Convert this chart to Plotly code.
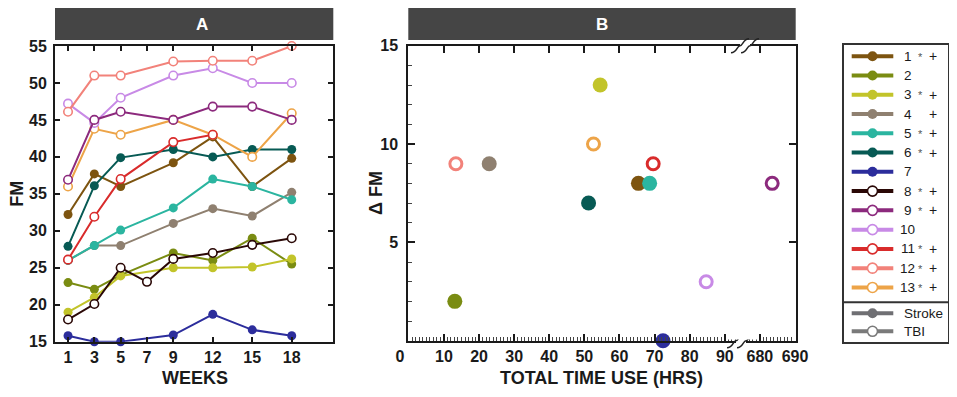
import plotly.graph_objects as go

PAGE_W, PAGE_H = 957, 397
BODY_MARGIN = 8  # default page margin around the plot div
W, H = PAGE_W - 2 * BODY_MARGIN, PAGE_H - 2 * BODY_MARGIN
FONT = "Liberation Sans, Arial, Helvetica, sans-serif"

# ---------------- data ----------------
weeks = [1, 3, 5, 9, 12, 15, 18]
weeks_p8 = [1, 3, 5, 7, 9, 12, 15, 18]
weeks_p11 = [1, 3, 5, 9, 12]

fm_p1 = [32.2, 37.7, 36.0, 39.2, 42.7, 36.0, 39.8]
fm_p2 = [23.0, 22.1, 24.0, 27.0, 26.0, 29.0, 25.5]
fm_p3 = [19.0, 21.0, 23.9, 25.0, 25.0, 25.1, 26.2]
fm_p4 = [26.0, 28.0, 28.0, 31.0, 33.0, 32.0, 35.2]
fm_p5 = [26.0, 28.0, 30.1, 33.1, 37.0, 36.0, 34.2]
fm_p6 = [27.9, 36.1, 39.9, 41.0, 40.0, 41.0, 41.0]
fm_p7 = [15.8, 15.0, 15.0, 15.9, 18.7, 16.6, 15.8]
fm_p8 = [18.0, 20.1, 25.0, 23.1, 26.2, 27.0, 28.1, 29.0]
fm_p9 = [36.9, 45.0, 46.1, 45.0, 46.8, 46.8, 45.0]
fm_p10 = [47.2, 44.6, 48.0, 51.0, 52.0, 50.0, 50.0]
fm_p11 = [26.1, 31.9, 37.0, 42.0, 43.0]
fm_p12 = [46.1, 51.0, 51.0, 52.9, 53.0, 53.0, 55.0]
fm_p13 = [36.0, 43.8, 43.0, 45.0, 43.0, 40.0, 45.9]

patients = ["1", "2", "3", "4", "5", "6", "7", "8", "9", "10", "11", "12", "13"]
group = ["Stroke"] * 7 + ["TBI"] * 6
sig_star = ["*", "", "*", "", "*", "*", "", "*", "*", "", "*", "*", "*"]
sig_plus = ["+", "", "+", "+", "+", "+", "", "+", "+", "", "+", "+", "+"]

total_hours = [65.4, 13.1, 54.5, 22.9, 68.6, 51.2, 72.4, None, 683.5, 84.7, 69.6, 13.4, 52.6]
delta_fm = [8, 2, 13, 9, 8, 7, 0, None, 8, 3, 9, 9, 10]

colors = ["#7d5410", "#7a8c12", "#c2c42a", "#8f8070", "#2bb5a0", "#075a54", "#2c2d9c",
          "#2a0806", "#8c2a7d", "#c88ae6", "#d92b2b", "#f2827a", "#eda448"]
group_colors = {"Stroke": "#6f6f73", "TBI": "#7a7a7a"}

x_ticks_a = [1, 3, 5, 7, 9, 12, 15, 18]
y_ticks_a = [15, 20, 25, 30, 35, 40, 45, 50, 55]
x_ticks_b = [0, 10, 20, 30, 40, 50, 60, 70, 80, 90, 680, 690]
y_ticks_b = [5, 10, 15]

series_weeks = [weeks] * 7 + [weeks_p8, weeks, weeks, weeks_p11, weeks, weeks]
series_fm = [fm_p1, fm_p2, fm_p3, fm_p4, fm_p5, fm_p6, fm_p7,
             fm_p8, fm_p9, fm_p10, fm_p11, fm_p12, fm_p13]

BREAK_LO, BREAK_HI = 90, 680
BREAK_GAP = 10  # axis units shown for the break


def broken(h):
    """map hours onto the broken x axis of panel B"""
    if h is None:
        return None
    return h if h <= BREAK_LO else h - (BREAK_HI - BREAK_LO - BREAK_GAP)


def px(x):
    return (x - BODY_MARGIN) / W


def py(y):
    return 1 - (y - BODY_MARGIN) / H


def dom(a, b):
    return [max(0.0, min(1.0, a)), max(0.0, min(1.0, b))]


fig = go.Figure()

# ---------------- panel A ----------------
draw_order_a = [0, 1, 2, 3, 4, 5, 6, 7, 12, 9, 11, 8, 10]
for i in draw_order_a:
    is_open = group[i] == "TBI"
    fig.add_trace(go.Scatter(
        x=series_weeks[i], y=series_fm[i], mode="lines+markers",
        xaxis="x", yaxis="y", cliponaxis=False, showlegend=False,
        line=dict(color=colors[i], width=2),
        marker=dict(size=8.5 if is_open else 9,
                    color="white" if is_open else colors[i],
                    line=dict(color=colors[i], width=1.6 if is_open else 0)),
        name=patients[i]))

# ---------------- panel B ----------------
for i in range(13):
    if total_hours[i] is None:
        continue
    is_open = group[i] == "TBI"
    fig.add_trace(go.Scatter(
        x=[broken(total_hours[i])], y=[delta_fm[i]], mode="markers",
        xaxis="x2", yaxis="y2", cliponaxis=False, showlegend=False,
        marker=dict(size=12 if is_open else 15,
                    color="white" if is_open else colors[i],
                    line=dict(color=colors[i], width=3 if is_open else 0)),
        name=patients[i]))

# helper empty traces for overlay axes (mirror ticks without minor ticks)
fig.add_trace(go.Scatter(x=[None], y=[None], xaxis="x4", yaxis="y2", showlegend=False))
fig.add_trace(go.Scatter(x=[None], y=[None], xaxis="x2", yaxis="y4", showlegend=False))

# ---------------- manual legend ----------------
LEG_L, LEG_R, LEG_T, LEG_B = 844, 948.2, 45, 341.7
leg_w, leg_h = LEG_R - LEG_L, LEG_B - LEG_T
row0, row_step = 11.2, 19.27
line_x0, line_x1 = 7.7, 49.3
mark_x = (line_x0 + line_x1) / 2
legend_rows = [(patients[i], colors[i], group[i] == "TBI", row0 + row_step * i) for i in range(13)]
legend_rows += [("Stroke", group_colors["Stroke"], False, 268.3),
                ("TBI", group_colors["TBI"], True, 286.3)]
annotations = []
for k, (lab, col, is_open, yy) in enumerate(legend_rows):
    fig.add_trace(go.Scatter(
        x=[line_x0, mark_x, line_x1], y=[yy, yy, yy], mode="lines+markers",
        xaxis="x3", yaxis="y3", showlegend=False, cliponaxis=False, hoverinfo="skip",
        line=dict(color=col, width=4),
        marker=dict(size=10, opacity=[0, 1, 0],
                    color="white" if is_open else col,
                    line=dict(color=col, width=1.6 if is_open else 0))))
    if k < 13:
        annotations.append(dict(x=63.5, y=yy, xref="x3", yref="y3", text=lab, showarrow=False,
                                xanchor="center", yanchor="middle",
                                font=dict(family=FONT, size=13.5, color="#1a1a1a")))
        if sig_star[k]:
            annotations.append(dict(x=76.5, y=yy + 0.5, xref="x3", yref="y3", text=sig_star[k],
                                    showarrow=False, xanchor="center", yanchor="middle",
                                    font=dict(family=FONT, size=11, color="#555555")))
        if sig_plus[k]:
            annotations.append(dict(x=89, y=yy, xref="x3", yref="y3", text=sig_plus[k],
                                    showarrow=False, xanchor="center", yanchor="middle",
                                    font=dict(family=FONT, size=14, color="#1a1a1a")))
    else:
        annotations.append(dict(x=57.5, y=yy, xref="x3", yref="y3", text=lab, showarrow=False,
                                xanchor="left", yanchor="middle",
                                font=dict(family=FONT, size=13.5, color="#1a1a1a")))

# ---------------- strips ----------------
shapes = []
STRIP = "#454545"
for (x0, x1, lab) in [(55, 333.3, "A"), (408.3, 795.7, "B")]:
    shapes.append(dict(type="rect", xref="paper", yref="paper",
                       x0=px(x0), x1=px(x1), y0=py(40), y1=py(8),
                       fillcolor=STRIP, line=dict(width=0), layer="below"))
    annotations.append(dict(x=px((x0 + x1) / 2), y=py(24.5), xref="paper", yref="paper",
                            text="<b>%s</b>" % lab, showarrow=False, yanchor="middle",
                            font=dict(family=FONT, size=17, color="white")))

# axis titles
titlefont = dict(family=FONT, size=18, color="#1a1a1a")
for (tx, ty, txt, ang) in [(194.7, 378, "WEEKS", 0), (16.7, 194, "FM", -90),
                           (601.7, 378, "TOTAL TIME USE (HRS)", 0), (376.7, 193.3, "\u0394 FM", -90)]:
    annotations.append(dict(x=px(tx), y=py(ty), xref="paper", yref="paper",
                            text="<b>%s</b>" % txt, showarrow=False, textangle=ang,
                            xanchor="center", yanchor="middle", font=titlefont))

# legend divider
shapes.append(dict(type="line", xref="paper", yref="paper", x0=px(LEG_L), x1=px(LEG_R),
                   y0=py(302.3), y1=py(302.3), line=dict(color="#333333", width=2)))


# axis break marks
def break_marks(cx, cy, gap_l, gap_r, hide_top, hide_bot):
    out = [dict(type="rect", xref="paper", yref="paper",
                x0=px(gap_l), x1=px(gap_r), y0=py(hide_bot), y1=py(hide_top),
                fillcolor="white", line=dict(width=0), layer="above")]
    for dx in (-5, 5):
        x = cx + dx
        pts = [(x - 9, cy + 7), (x - 3, cy + 7), (x - 3, cy), (x, cy), (x + 3, cy), (x + 3, cy - 7), (x + 9, cy - 7)]
        path = "M %.4f,%.4f C %.4f,%.4f %.4f,%.4f %.4f,%.4f C %.4f,%.4f %.4f,%.4f %.4f,%.4f" % tuple(
            v for p in pts for v in (px(p[0]), py(p[1])))
        out.append(dict(type="path", xref="paper", yref="paper", path=path,
                        line=dict(color="#222222", width=1.5), layer="above"))
    return out


shapes += break_marks(745, 45.7, 740, 750, 43.5, 48)
shapes += break_marks(741, 340.7, 736, 746, 338.5, 343)
# hide minor ticks inside the break region
shapes.append(dict(type="rect", xref="paper", yref="paper", x0=px(727.5), x1=px(757.5),
                   y0=py(339.5), y1=py(332), fillcolor="white", line=dict(width=0), layer="above"))

AX = "#1a1a1a"
tickfont = dict(family=FONT, size=16, color="#1a1a1a", weight="bold")

x_ticktext_b = [str(v) for v in x_ticks_b]
x_ticktext_b[0] = "0\u00a0\u00a0\u00a0\u00a0"

common = dict(showgrid=False, zeroline=False, automargin=False)

fig.update_layout(
    width=W, height=H, margin=dict(l=0, r=0, t=0, b=0, autoexpand=False),
    paper_bgcolor="white", plot_bgcolor="white",
    showlegend=False,
    xaxis=dict(domain=dom(px(55), px(333.3)), anchor="y", range=[0.01, 21.16],
               tickvals=x_ticks_a, ticktext=[str(v) for v in x_ticks_a],
               ticks="inside", ticklen=5, tickwidth=2, tickcolor=AX,
               showline=True, linecolor=AX, linewidth=2, mirror="ticks",
               tickfont=tickfont, ticklabelstandoff=0, **common),
    yaxis=dict(domain=dom(py(341.7), py(46)), anchor="x", range=[15, 55],
               tickvals=y_ticks_a, ticks="inside", ticklen=5, tickwidth=2, tickcolor=AX,
               showline=True, linecolor=AX, linewidth=2, mirror="ticks",
               tickfont=tickfont, ticklabelstandoff=3, **common),
    xaxis2=dict(domain=dom(px(408.3), px(795.7)), anchor="y2", range=[-0.15, 110.2],
                tickvals=[broken(v) for v in x_ticks_b], ticktext=x_ticktext_b,
                ticks="inside", ticklen=7, tickwidth=2, tickcolor=AX,
                minor=dict(dtick=1, tick0=0, ticks="inside", ticklen=4, tickwidth=1, tickcolor="#444444"),
                showline=True, linecolor=AX, linewidth=2, mirror=True,
                tickfont=tickfont, ticklabelstandoff=0, **common),
    yaxis2=dict(domain=dom(py(340.7), py(45.7)), anchor="x2", range=[0, 15],
                tickvals=y_ticks_b, ticks="inside", ticklen=7, tickwidth=2, tickcolor=AX,
                minor=dict(dtick=1, tick0=0, ticks="inside", ticklen=4, tickwidth=1, tickcolor="#444444"),
                showline=True, linecolor=AX, linewidth=2, mirror=True,
                tickfont=tickfont, ticklabelstandoff=5, **common),
    xaxis4=dict(overlaying="x2", side="top", anchor="y2", range=[-0.15, 110.2],
                tickvals=[broken(v) for v in x_ticks_b if v != 0], showticklabels=False,
                ticks="inside", ticklen=7, tickwidth=2, tickcolor=AX,
                showline=False, **common),
    yaxis4=dict(overlaying="y2", side="right", anchor="x2", range=[0, 15],
                tickvals=[5, 10], showticklabels=False,
                ticks="inside", ticklen=7, tickwidth=2, tickcolor=AX,
                showline=False, **common),
    xaxis3=dict(domain=dom(px(LEG_L), px(LEG_R)), anchor="y3", range=[0, leg_w],
                showticklabels=False, ticks="", fixedrange=True,
                showline=True, linecolor="#333333", linewidth=2, mirror=True, **common),
    yaxis3=dict(domain=dom(py(LEG_B), py(LEG_T)), anchor="x3", range=[leg_h, 0],
                showticklabels=False, ticks="", fixedrange=True,
                showline=True, linecolor="#333333", linewidth=2, mirror=True, **common),
    shapes=shapes,
    annotations=annotations,
)

fig.write_html("out.html")
